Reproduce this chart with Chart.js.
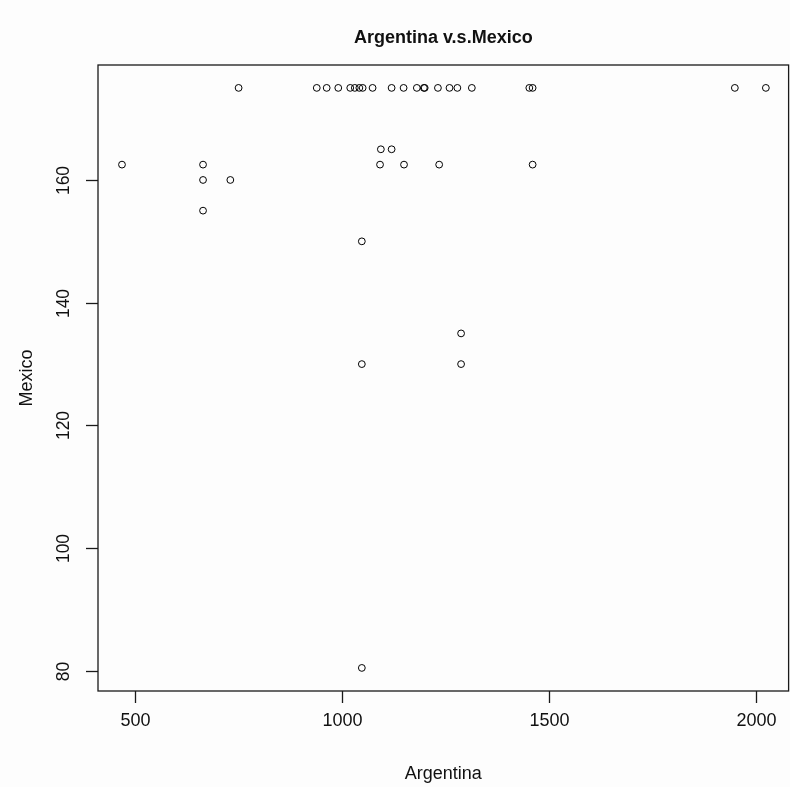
<!DOCTYPE html>
<html>
<head>
<meta charset="utf-8">
<script src="https://cdn.jsdelivr.net/npm/chart.js@4/dist/chart.umd.min.js"></script>
<style>
  html, body { margin: 0; padding: 0; background: #fdfdfd; overflow: hidden; }
  #wrap { width: 793px; height: 787px; }
</style>
</head>
<body>
<div id="wrap"><canvas id="c" width="793" height="787"></canvas></div>
<script>
// Paired observations: Argentina (x) against Mexico (y)
const argentina = [
  750, 939, 963, 991, 1020, 1031, 1042, 1050, 1074, 1120, 1149, 1181, 1198, 1200,
  1232, 1260, 1279, 1314, 1453, 1461, 1950, 2025,
  1094, 1120,
  468, 664, 1092, 1150, 1235, 1461,
  664, 730,
  664,
  1048,
  1288,
  1048, 1288,
  1048
];
const mexico = [
  175, 175, 175, 175, 175, 175, 175, 175, 175, 175, 175, 175, 175, 175,
  175, 175, 175, 175, 175, 175, 175, 175,
  165, 165,
  162.5, 162.5, 162.5, 162.5, 162.5, 162.5,
  160, 160,
  155,
  150,
  135,
  130, 130,
  80.5
];

const xTicks = [500, 1000, 1500, 2000];
const yTicks = [80, 100, 120, 140, 160];
const titleText = 'Argentina v.s.Mexico';
const xTitle = 'Argentina';
const yTitle = 'Mexico';

const points = argentina.map((v, i) => ({ x: v, y: mexico[i] }));

const FONT = '"Liberation Sans", Arial, sans-serif';

// Base-graphics style frame: box, outward ticks, rotated y labels, titles
const baseAxes = {
  id: 'baseAxes',
  beforeDraw(chart) {
    const ctx = chart.ctx;
    ctx.save();
    ctx.fillStyle = '#fdfdfd';
    ctx.fillRect(0, 0, chart.width, chart.height);
    ctx.restore();
  },
  afterDraw(chart) {
    const { ctx, chartArea: a, scales: { x, y } } = chart;
    ctx.save();
    ctx.strokeStyle = '#1a1a1a';
    ctx.lineWidth = 1.3;
    ctx.strokeRect(a.left, a.top, a.right - a.left, a.bottom - a.top);

    ctx.fillStyle = '#111';
    ctx.font = '18px ' + FONT;

    // x axis ticks and labels
    ctx.textAlign = 'center';
    ctx.textBaseline = 'middle';
    xTicks.forEach(v => {
      const px = Math.round(x.getPixelForValue(v)) + 0.5;
      ctx.beginPath();
      ctx.moveTo(px, a.bottom);
      ctx.lineTo(px, a.bottom + 12);
      ctx.stroke();
      ctx.fillText(String(v), px, a.bottom + 30);
    });

    // y axis ticks and rotated labels
    ctx.font = '17.5px ' + FONT;
    yTicks.forEach(v => {
      const py = Math.round(y.getPixelForValue(v)) + 0.5;
      ctx.beginPath();
      ctx.moveTo(a.left, py);
      ctx.lineTo(a.left - 12, py);
      ctx.stroke();
      ctx.save();
      ctx.translate(a.left - 34, py);
      ctx.rotate(-Math.PI / 2);
      ctx.fillText(String(v), 0, 0);
      ctx.restore();
    });

    const cx = (a.left + a.right) / 2;
    const cy = (a.top + a.bottom) / 2;

    ctx.font = '18px ' + FONT;
    ctx.fillText(xTitle, cx, 774);

    ctx.save();
    ctx.translate(27, cy);
    ctx.rotate(-Math.PI / 2);
    ctx.fillText(yTitle, 0, 0);
    ctx.restore();

    ctx.font = 'bold 18px ' + FONT;
    ctx.fillText(titleText, cx, 38);
    ctx.restore();
  }
};

new Chart(document.getElementById('c'), {
  type: 'scatter',
  data: {
    datasets: [{
      data: points,
      pointStyle: 'circle',
      pointRadius: 3.4,
      pointHoverRadius: 3.4,
      pointBorderWidth: 1,
      borderColor: '#000',
      backgroundColor: 'rgba(0,0,0,0)',
      showLine: false
    }]
  },
  options: {
    responsive: false,
    animation: false,
    devicePixelRatio: 1,
    layout: { padding: { left: 98, right: 1, top: 65, bottom: 96 } },
    plugins: { legend: { display: false }, tooltip: { enabled: false }, title: { display: false } },
    scales: {
      x: { type: 'linear', display: false, min: 410, max: 2080 },
      y: { type: 'linear', display: false, min: 76.74, max: 178.73 }
    }
  },
  plugins: [baseAxes]
});
</script>
</body>
</html>
